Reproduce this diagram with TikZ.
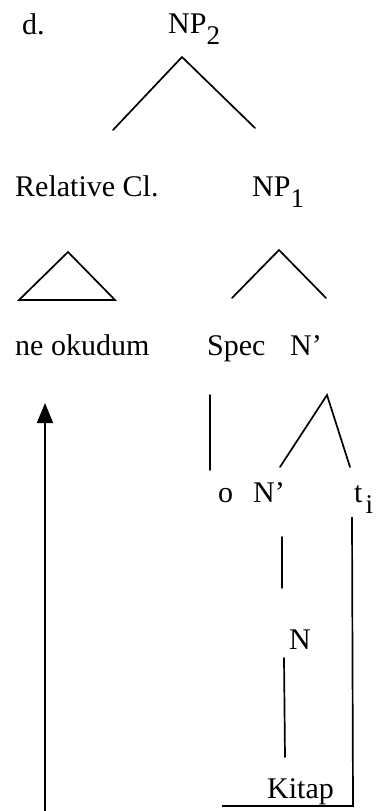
\documentclass[tikz,border=0pt]{standalone}
\usepackage{fontspec}
\setmainfont{Liberation Serif}
\usepackage{tikz}
\usetikzlibrary{calc, arrows.meta, positioning}
\newcommand{\lowsub}[1]{\raisebox{-11pt}{\fontsize{27}{30}\selectfont #1}}

\begin{document}
\begin{tikzpicture}[x=1pt, y=-1pt,
    lbl/.style={anchor=base west, inner sep=0pt, font=\fontsize{30}{36}\selectfont},
    branch/.style={line width=1.7pt, line cap=round}]
      \useasboundingbox (0,0) rectangle (375,811);
      % labels
      \node[lbl] (ex) at (22,34) {d.};
      \node[lbl] (np2) at (168,33) {NP\lowsub{2}};
      \node[lbl] (relcl) at (15,196) {Relative Cl.};
      \node[lbl] (np1) at (252,196) {NP\lowsub{1}};
      \node[lbl] (neokudum) at (15,355) {ne okudum};
      \node[lbl] (spec) at (207,355) {Spec};
      \node[lbl] (nbar) at (290,355) {N'};
      \node[lbl] (o) at (218,502) {o};
      \node[lbl] (nbarlow) at (253,502) {N'};
      \node[lbl] (trace) at (354,502) {t\kern3pt\lowsub{i}};
      \node[lbl] (n) at (289,649) {N};
      \node[lbl] (kitap) at (267,798) {Kitap};
      % branches
      \coordinate (np2-top) at (182,57);
      \draw[branch] ($(np2-top)+(-69,73)$) -- (np2-top) -- ($(np2-top)+(73,71)$);
      \draw[branch] (68,252) -- (19,300) -- (115,300) -- cycle;
      \coordinate (np1-top) at (279,250);
      \draw[branch] ($(np1-top)+(-47,48)$) -- (np1-top) -- ($(np1-top)+(47,48)$);
      \draw[branch] (210,395) -- (210,470);
      \coordinate (nbar-top) at (327,395);
      \draw[branch] ($(nbar-top)+(-47,72)$) -- (nbar-top) -- ($(nbar-top)+(23,72)$);
      \draw[branch] (282,537) -- (282,588);
      \draw[branch] (284,658) -- (285,757);
      % movement
      \coordinate (t-foot) at (352,517);
      \coordinate (corner) at (353,806);
      \draw[branch, line cap=butt] (t-foot) -- (corner) -- (222,806);
      \coordinate (arrow-foot) at (45,811);
      \draw[line width=1.7pt, -{Triangle[length=20pt, width=16pt]}] (arrow-foot) -- (45,403);
\end{tikzpicture}
\end{document}
